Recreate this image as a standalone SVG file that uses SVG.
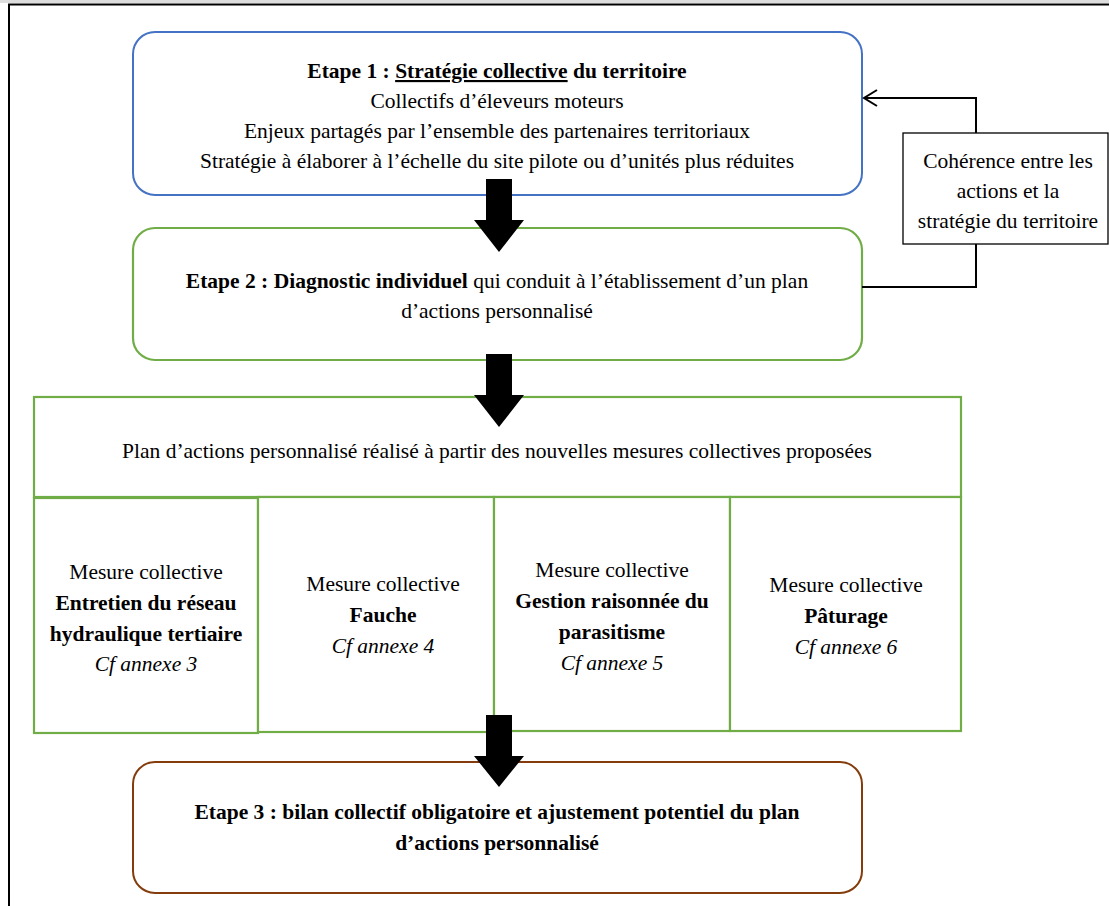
<svg xmlns="http://www.w3.org/2000/svg" width="1109" height="906" viewBox="0 0 1109 906">
<style>
text{font-family:"Liberation Serif","Times New Roman",serif;font-size:21.5px;fill:#000;text-anchor:middle}
.b{font-weight:bold}
.i{font-style:italic}
.u{text-decoration:underline}
.blue{fill:#fff;stroke:#4472C4;stroke-width:2}
.green{fill:#fff;stroke:#70AD47;stroke-width:2.2}
.brown{fill:#fff;stroke:#843C0C;stroke-width:2}
.side{fill:#fff;stroke:#000;stroke-width:1.3}
.line{fill:none;stroke:#000;stroke-width:2}
.blk{fill:#000}
</style>
<defs>
<marker id="open" markerWidth="16" markerHeight="20" refX="14" refY="10" orient="auto" markerUnits="userSpaceOnUse">
<path d="M1,2 L14,10 L1,18" fill="none" stroke="#000" stroke-width="2"/>
</marker>
</defs>
<rect x="0" y="0" width="1109" height="906" fill="#fff"/>
<rect x="0" y="0" width="1109" height="3" fill="#ddd"/>
<g id="frame">
<path d="M9,906 V4.5 H1109" fill="none" stroke="#000" stroke-width="2"/>
</g>
<g id="etape1">
<rect class="blue" x="133" y="32" width="729" height="163" rx="22"/>
<text x="497" y="78" class="b">Etape 1 : <tspan class="u">Stratégie collective</tspan> du territoire</text>
<text x="497" y="108">Collectifs d’éleveurs moteurs</text>
<text x="497" y="138">Enjeux partagés par l’ensemble des partenaires territoriaux</text>
<text x="497" y="168">Stratégie à élaborer à l’échelle du site pilote ou d’unités plus réduites</text>
</g>
<g id="etape2">
<rect class="green" x="133" y="228" width="729" height="132" rx="22"/>
<text x="497" y="288"><tspan class="b">Etape 2 : Diagnostic individuel</tspan> qui conduit à l’établissement d’un plan</text>
<text x="497" y="318">d’actions personnalisé</text>
</g>
<g id="plan">
<rect class="green" x="34" y="397" width="927" height="100"/>
<text x="497" y="458">Plan d’actions personnalisé réalisé à partir des nouvelles mesures collectives proposées</text>
</g>
<g id="mesure1">
<rect class="green" x="34" y="498" width="224" height="235"/>
<text x="146" y="579">Mesure collective</text>
<text x="146" y="610" class="b">Entretien du réseau</text>
<text x="146" y="641" class="b">hydraulique tertiaire</text>
<text x="146" y="671" class="i">Cf annexe 3</text>
</g>
<g id="mesure2">
<rect class="green" x="258" y="497" width="236" height="235"/>
<text x="383" y="591">Mesure collective</text>
<text x="383" y="622" class="b">Fauche</text>
<text x="383" y="653" class="i">Cf annexe 4</text>
</g>
<g id="mesure3">
<rect class="green" x="494" y="497" width="236" height="234"/>
<text x="612" y="577">Mesure collective</text>
<text x="612" y="608" class="b">Gestion raisonnée du</text>
<text x="612" y="639" class="b">parasitisme</text>
<text x="612" y="670" class="i">Cf annexe 5</text>
</g>
<g id="mesure4">
<rect class="green" x="730" y="497" width="231" height="234"/>
<text x="846" y="592">Mesure collective</text>
<text x="846" y="623" class="b">Pâturage</text>
<text x="846" y="654" class="i">Cf annexe 6</text>
</g>
<g id="etape3">
<rect class="brown" x="133" y="762" width="729" height="131" rx="22"/>
<text x="497" y="819" class="b">Etape 3 : bilan collectif obligatoire et ajustement potentiel du plan</text>
<text x="497" y="850" class="b">d’actions personnalisé</text>
</g>
<g id="connectors">
<path class="line" d="M862,287 H976 V244"/>
<path class="line" d="M976,133 V98 H864" marker-end="url(#open)"/>
<polygon class="blk" points="486,179 512,179 512,220 524,220 499,252 474,220 486,220"/>
<polygon class="blk" points="486,354 512,354 512,395 524,395 499,427 474,395 486,395"/>
<polygon class="blk" points="486,715 512,715 512,756 524,756 499,787 474,756 486,756"/>
</g>
<g id="coherence">
<rect class="side" x="903" y="133" width="205" height="111"/>
<text x="1008" y="168">Cohérence entre les</text>
<text x="1008" y="198">actions et la</text>
<text x="1008" y="228">stratégie du territoire</text>
</g>
</svg>
